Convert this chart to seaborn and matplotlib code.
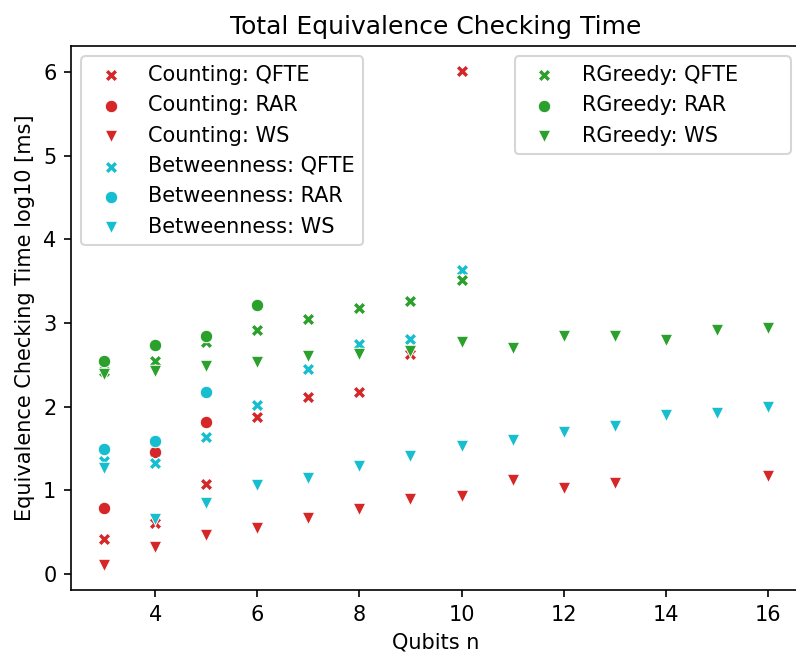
import numpy as np
import pandas as pd
import matplotlib
matplotlib.use("Agg")
import matplotlib.pyplot as plt
import seaborn as sns

qubits_full = [3, 4, 5, 6, 7, 8, 9, 10]
qubits_rar = [3, 4, 5]
qubits_ws_counting = [3, 4, 5, 6, 7, 8, 9, 10, 11, 12, 13, 16]
qubits_ws = [3, 4, 5, 6, 7, 8, 9, 10, 11, 12, 13, 14, 15, 16]
qubits_rar_rg = [3, 4, 5, 6]

counting_qfte = [0.41, 0.61, 1.07, 1.87, 2.12, 2.17, 2.63, 6.02]
counting_rar = [0.78, 1.45, 1.81]
counting_ws = [0.10, 0.32, 0.46, 0.55, 0.67, 0.77, 0.89, 0.93, 1.12, 1.03, 1.09, 1.17]

betw_qfte = [1.35, 1.32, 1.64, 2.02, 2.45, 2.75, 2.81, 3.63]
betw_rar = [1.49, 1.59, 2.18]
betw_ws = [1.27, 0.65, 0.85, 1.06, 1.15, 1.29, 1.41, 1.53, 1.60, 1.70, 1.77, 1.90, 1.92, 1.99]

rg_qfte = [2.42, 2.55, 2.77, 2.92, 3.05, 3.18, 3.26, 3.51]
rg_rar = [2.54, 2.74, 2.84, 3.21]
rg_ws = [2.39, 2.42, 2.48, 2.53, 2.61, 2.63, 2.67, 2.77, 2.70, 2.84, 2.85, 2.80, 2.92, 2.94]

series = [
    ("Counting: QFTE", qubits_full, counting_qfte, "tab:red", "X"),
    ("Counting: RAR", qubits_rar, counting_rar, "tab:red", "o"),
    ("Counting: WS", qubits_ws_counting, counting_ws, "tab:red", "v"),
    ("Betweenness: QFTE", qubits_full, betw_qfte, "tab:cyan", "X"),
    ("Betweenness: RAR", qubits_rar, betw_rar, "tab:cyan", "o"),
    ("Betweenness: WS", qubits_ws, betw_ws, "tab:cyan", "v"),
    ("RGreedy: QFTE", qubits_full, rg_qfte, "tab:green", "X"),
    ("RGreedy: RAR", qubits_rar_rg, rg_rar, "tab:green", "o"),
    ("RGreedy: WS", qubits_ws, rg_ws, "tab:green", "v"),
]

fig = plt.figure(figsize=(796 / 150, 657 / 150), dpi=150)
ax = fig.add_axes([71 / 796, (657 - 590) / 657, (801 - 71) / 796, (590 - 46) / 657])

for label, xs, ys, color, marker in series:
    df = pd.DataFrame({"x": xs, "y": ys})
    sns.scatterplot(data=df, x="x", y="y", color=color, marker=marker,
                    label=label, ax=ax, legend=False)

handles, labels = ax.get_legend_handles_labels()
leg1 = ax.legend(handles[:6], labels[:6], loc="upper left")
ax.add_artist(leg1)
ax.legend(handles[6:], labels[6:], loc="upper right",
          bbox_to_anchor=(0.594, 0, 0.406, 1), mode="expand")

ax.set_title("Total Equivalence Checking Time")
ax.set_xlabel("Qubits n")
ax.set_ylabel("Equivalence Checking Time log10 [ms]")

fig.savefig("out.png", dpi=150)
